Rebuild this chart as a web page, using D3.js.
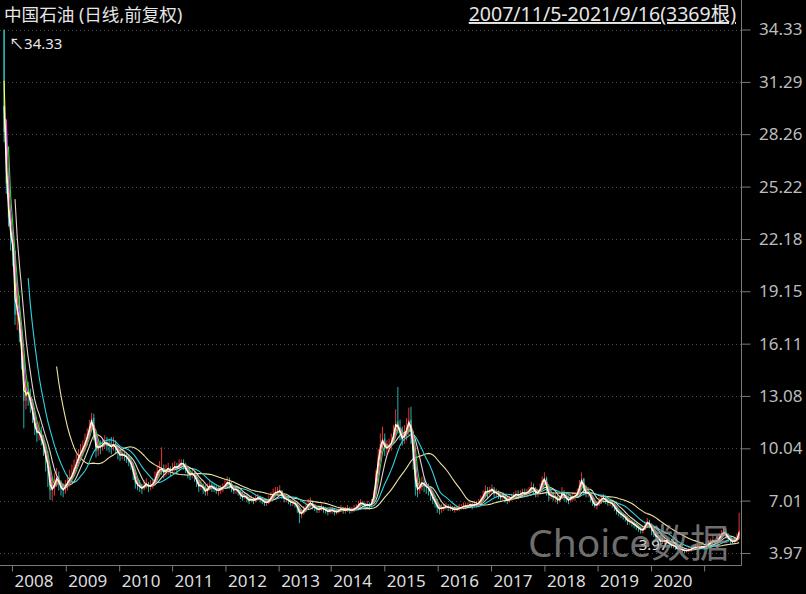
<!DOCTYPE html>
<html><head><meta charset="utf-8">
<script src="https://cdn.jsdelivr.net/npm/d3@7"></script>
<style>html,body{margin:0;padding:0;background:#000;overflow:hidden}svg{display:block}</style>
</head><body>
<svg id="chart" width="806" height="594"></svg>
<script>
// ---------- data (each sample = 10 trading days) ----------
const titleText = "中国石油 (日线,前复权)";
const rangeText = "2007/11/5-2021/9/16(3369根)";
const watermarkText = "Choice数据";
const totalBars = 3369;
const barsPerSample = 10;
const firstOpen = 34.31;

const closes = [
28.4,25.4,23.4,22.2,21.5,17.8,18.3,16.8,15.2,12.8,
13.4,13.2,12.6,12.0,11.2,10.9,11.0,10.5,10.1,9.4,
8.9,7.6,7.7,8.0,8.4,8.0,7.7,7.6,7.9,8.1,
8.3,8.5,8.9,9.2,9.6,9.8,10.1,10.4,10.8,11.3,
11.8,10.8,9.9,10.2,10.1,10.3,10.4,10.3,10.2,10.1,
10.3,10.0,9.8,9.6,9.7,9.6,9.5,9.3,9.1,8.6,
8.0,7.9,7.8,7.7,7.9,8.0,7.8,7.9,8.0,8.3,
8.7,8.8,8.9,8.6,8.8,8.9,8.7,8.9,9.0,8.9,
9.1,9.2,9.1,8.8,8.6,8.5,8.6,8.4,8.1,7.8,
7.9,7.7,7.5,7.7,7.9,7.8,7.7,7.6,7.6,7.7,
7.8,7.9,8.1,8.0,7.7,7.6,7.7,7.5,7.3,7.2,
7.3,7.1,7.0,7.1,7.0,7.1,7.2,7.1,7.0,6.9,
6.9,7.0,7.2,7.4,7.5,7.5,7.6,7.3,7.1,7.1,
7.0,6.9,6.9,6.8,6.6,6.2,6.3,6.5,6.6,6.8,
6.9,6.7,6.6,6.5,6.5,6.6,6.5,6.45,6.35,6.45,
6.45,6.35,6.35,6.45,6.55,6.45,6.45,6.55,6.45,6.45,
6.55,6.6,6.8,6.9,6.8,6.7,6.8,6.7,6.9,7.4,
8.6,9.5,10.3,10.6,10.0,10.1,10.2,10.4,10.9,11.6,
11.2,10.9,10.5,10.9,11.2,11.7,11.0,9.4,7.8,7.6,
7.9,8.1,7.9,7.8,7.7,7.4,7.1,6.9,6.6,6.5,
6.6,6.6,6.7,6.6,6.6,6.5,6.5,6.5,6.6,6.6,
6.7,6.7,6.7,6.8,6.7,6.8,6.8,6.9,7.1,7.3,
7.6,7.5,7.6,7.7,7.4,7.5,7.3,7.2,7.3,7.1,
7.0,7.1,7.2,7.3,7.4,7.3,7.4,7.5,7.4,7.5,
7.6,7.8,7.7,7.4,7.5,7.7,8.2,8.3,7.6,7.3,
7.3,7.2,7.2,7.0,7.1,7.5,7.3,7.1,7.0,7.2,
7.2,7.3,7.4,7.9,8.3,7.6,7.4,7.5,7.2,6.9,
6.7,6.8,7.0,7.1,7.2,7.0,6.9,6.9,6.8,6.6,
6.4,6.3,6.2,6.1,6.0,5.8,5.8,5.7,5.6,5.5,
5.4,5.3,5.3,5.6,5.8,5.6,5.3,5.1,4.9,4.8,
4.6,4.7,4.7,4.6,4.5,4.4,4.4,4.3,4.2,4.2,
4.15,4.1,4.1,4.15,4.2,4.3,4.3,4.3,4.3,4.35,
4.3,4.4,4.5,4.6,4.7,4.6,4.7,4.9,5.1,5.2,
5.0,4.8,4.7,4.6,4.7,4.8,5.3
];

const highs = [
34.33,28.6,25.8,23.6,22.6,21.4,19.6,18.9,16.9,15.0,
14.0,13.9,13.5,12.9,12.2,11.5,11.6,11.3,10.8,10.3,
9.9,8.9,8.3,8.6,8.9,8.7,8.2,8.0,8.2,8.5,
8.8,9.1,9.4,9.7,10.0,10.3,10.5,10.9,11.2,11.7,
12.1,12.05,10.8,10.6,10.5,10.6,10.8,10.7,10.6,10.7,
10.7,10.5,10.2,10.0,10.0,9.9,9.8,9.7,9.5,9.2,
8.7,8.3,8.2,8.0,8.2,8.3,8.1,8.2,8.3,8.7,
9.0,9.3,10.1,9.1,9.1,9.2,9.0,9.2,9.3,9.2,
9.4,9.4,9.4,9.2,8.9,8.8,8.9,8.7,8.5,8.2,
8.2,8.0,7.9,8.0,8.2,8.1,8.0,7.9,7.9,7.9,
8.0,8.2,8.4,8.35,8.1,7.9,7.9,7.8,7.6,7.5,
7.5,7.4,7.3,7.3,7.2,7.3,7.4,7.3,7.2,7.1,
7.1,7.3,7.5,7.7,7.8,7.8,7.9,7.6,7.4,7.3,
7.2,7.1,7.1,7.0,6.9,6.7,6.5,6.7,6.9,7.1,
7.2,7.0,6.8,6.7,6.7,6.8,6.7,6.65,6.55,6.65,
6.65,6.55,6.55,6.65,6.75,6.65,6.65,6.75,6.65,6.65,
6.75,6.8,7.0,7.1,7.0,6.9,7.0,6.9,7.1,7.6,
8.8,10.0,10.9,11.3,10.9,10.5,10.6,10.9,11.4,12.3,
13.6,11.7,11.3,11.4,11.8,12.4,12.45,11.0,9.4,8.1,
8.3,8.4,8.3,8.1,8.0,7.8,7.5,7.3,7.1,6.8,
6.8,6.8,6.9,6.8,6.8,6.7,6.7,6.7,6.8,6.8,
6.9,6.9,6.9,7.0,6.9,7.0,7.0,7.1,7.3,7.6,
7.9,7.8,7.8,7.95,7.8,7.7,7.6,7.5,7.5,7.4,
7.3,7.3,7.4,7.5,7.6,7.6,7.6,7.7,7.7,7.7,
7.8,8.1,8.0,7.8,7.7,8.0,8.4,8.65,8.4,7.7,
7.6,7.5,7.4,7.3,7.3,7.8,7.6,7.4,7.3,7.4,
7.5,7.5,7.7,8.2,8.65,8.3,7.8,7.8,7.5,7.2,
7.0,7.0,7.2,7.3,7.4,7.3,7.2,7.1,7.0,6.9,
6.7,6.5,6.4,6.3,6.2,6.1,6.0,5.9,5.8,5.7,
5.6,5.5,5.5,5.8,6.0,5.9,5.7,5.4,5.2,5.0,
4.9,4.9,4.9,4.8,4.7,4.6,4.6,4.6,4.4,4.35,
4.3,4.25,4.25,4.3,4.35,4.45,4.5,4.45,4.45,4.5,
4.5,4.6,4.7,4.8,5.0,4.8,4.9,5.1,5.3,5.45,
5.4,5.1,4.9,4.8,4.9,5.1,6.3
];

const lows = [
27.8,24.8,22.9,21.5,20.6,17.2,16.9,16.2,14.6,11.2,
12.3,12.5,12.1,11.5,10.8,10.4,10.5,10.2,9.6,8.7,
7.8,7.05,7.0,7.3,7.8,7.6,7.3,7.2,7.4,7.6,
7.8,8.0,8.4,8.8,9.0,9.3,9.6,9.9,10.2,10.7,
11.1,10.5,9.5,9.6,9.7,9.9,10.0,9.9,9.8,9.7,
9.9,9.7,9.4,9.3,9.4,9.3,9.2,9.0,8.8,8.2,
7.7,7.6,7.5,7.4,7.6,7.7,7.5,7.6,7.7,7.9,
8.2,8.4,8.5,8.3,8.4,8.5,8.4,8.6,8.7,8.6,
8.8,8.9,8.8,8.6,8.3,8.2,8.3,8.1,7.8,7.5,
7.6,7.4,7.3,7.3,7.6,7.5,7.5,7.4,7.3,7.4,
7.5,7.7,7.8,7.7,7.5,7.4,7.4,7.3,7.1,7.0,
7.1,6.9,6.8,6.9,6.8,6.9,7.0,6.9,6.8,6.7,
6.7,6.8,7.0,7.1,7.3,7.3,7.4,7.1,6.9,6.9,
6.8,6.7,6.7,6.6,6.3,5.70,6.0,6.2,6.4,6.5,
6.6,6.5,6.4,6.3,6.3,6.4,6.3,6.25,6.15,6.25,
6.25,6.15,6.2,6.25,6.35,6.25,6.25,6.35,6.25,6.3,
6.35,6.45,6.55,6.7,6.6,6.5,6.6,6.5,6.6,6.9,
7.4,8.5,9.3,10.0,9.6,9.7,9.8,9.9,10.3,10.8,
10.9,10.5,10.2,10.3,10.5,10.8,10.3,8.8,7.3,7.2,
7.4,7.6,7.5,7.4,7.3,7.0,6.8,6.6,6.3,6.2,
6.3,6.4,6.5,6.4,6.4,6.4,6.3,6.4,6.4,6.5,
6.5,6.5,6.6,6.6,6.5,6.6,6.6,6.7,6.8,7.0,
7.2,7.1,7.3,7.4,7.2,7.2,7.1,7.0,7.0,6.9,
6.8,6.9,7.0,7.1,7.1,7.1,7.2,7.2,7.2,7.3,
7.3,7.5,7.4,7.2,7.2,7.4,7.7,7.9,7.3,7.0,
7.1,7.0,6.9,6.8,6.9,7.1,7.0,6.9,6.8,6.9,
7.0,7.0,7.2,7.35,7.8,7.3,7.2,7.2,6.9,6.7,
6.6,6.5,6.7,6.8,6.9,6.8,6.7,6.7,6.6,6.4,
6.2,6.1,6.0,5.9,5.8,5.6,5.6,5.5,5.4,5.3,
5.2,5.1,5.1,5.3,5.5,5.4,5.0,4.9,4.7,4.6,
4.4,4.5,4.5,4.45,4.3,4.25,4.25,4.15,4.1,4.05,
4.0,3.97,4.0,4.02,4.05,4.1,4.15,4.15,4.15,4.2,
4.15,4.2,4.3,4.4,4.5,4.4,4.5,4.6,4.8,4.9,
4.8,4.6,4.5,4.5,4.5,4.6,4.8
];

const priceTicks = [3.97, 7.01, 10.04, 13.08, 16.11, 19.15, 22.18, 25.22, 28.26, 31.29, 34.33];
const yearLabels = ["2008","2009","2010","2011","2012","2013","2014","2015","2016","2017","2018","2019","2020","2021"];
const yearStartBars = [41, 287, 531, 773, 1017, 1260, 1498, 1743, 1987, 2231, 2475, 2718, 2962, 3205];

const maNames  = ["MA250","MA120","MA60","MA30","MA20","MA10","MA5"];
const maBars   = [250, 120, 60, 30, 20, 10, 5];
const maColors = ["#efe3a2","#2fd3df","#e8cfcf","#22e022","#ff3cff","#ffff30","#ffffff"];

// ---------- build ----------
const W = 806, H = 594;
const plotRight = 741, plotBottom = 565;
const svg = d3.select("#chart");
svg.append("rect").attr("width", W).attr("height", H).attr("fill", "#000");

const n = closes.length;
const samples = closes.map((c, i) => {
  const o = i === 0 ? firstOpen : closes[i - 1];
  return { i, o, c, h: Math.max(highs[i], o, c), l: Math.min(lows[i], o, c) };
});

const minLow = d3.min(lows), maxHigh = d3.max(highs);
const x = d3.scaleLinear().domain([0, totalBars]).range([3, 740]);
const y = d3.scaleLinear().domain([minLow, maxHigh]).range([553, 29.5]);
const cx = i => x(i * barsPerSample + barsPerSample / 2);

const font = "'Noto Sans','Noto Sans CJK SC','DejaVu Sans',sans-serif";

// gridlines
svg.append("g").selectAll("line").data(priceTicks).join("line")
  .attr("x1", 0).attr("x2", plotRight)
  .attr("y1", d => Math.round(y(d)) + 0.5).attr("y2", d => Math.round(y(d)) + 0.5)
  .attr("stroke", "#4c4c4c").attr("stroke-width", 1).attr("stroke-dasharray", "1,3");

// candles
const bodyW = 1.2;
const cg = svg.append("g");
samples.forEach(s => {
  const up = s.c >= s.o;
  const col = up ? "#ff3a3a" : "#2ec4c4";
  cg.append("line").attr("x1", cx(s.i)).attr("x2", cx(s.i))
    .attr("y1", y(s.h)).attr("y2", y(s.l)).attr("stroke", col).attr("stroke-width", 0.9);
  const top = y(Math.max(s.o, s.c)), bot = y(Math.min(s.o, s.c));
  cg.append("rect").attr("x", cx(s.i) - bodyW / 2).attr("width", bodyW)
    .attr("y", top).attr("height", Math.max(0.8, bot - top)).attr("fill", col);
});

// moving averages (per-sample bar averages assuming linear path inside a sample)
const sampleMean = samples.map(s => (s.o + s.c) / 2);
function maSeries(bars) {
  if (bars === 5) return samples.map(s => ({ i: s.i, v: s.o + 0.75 * (s.c - s.o) }));
  if (bars === 10) return samples.map(s => ({ i: s.i, v: (s.o + s.c) / 2 }));
  const k = bars / barsPerSample;
  const out = [];
  for (let i = k - 1; i < n; i++) {
    out.push({ i, v: d3.mean(sampleMean.slice(i - k + 1, i + 1)) });
  }
  return out;
}
const lineGen = d3.line().x(d => cx(d.i)).y(d => y(d.v));
const lg = svg.append("g");
maBars.forEach((b, j) => {
  lg.append("path").datum(maSeries(b)).attr("d", lineGen)
    .attr("fill", "none").attr("stroke", maColors[j]).attr("stroke-width", 1.1)
    .attr("stroke-linejoin", "round");
});

// axes frame
svg.append("line").attr("x1", plotRight + 0.5).attr("x2", plotRight + 0.5).attr("y1", 0).attr("y2", plotBottom + 0.5)
  .attr("stroke", "#7a7a7a");
svg.append("line").attr("x1", 0).attr("x2", plotRight + 0.5).attr("y1", plotBottom + 0.5).attr("y2", plotBottom + 0.5)
  .attr("stroke", "#7a7a7a");

// right axis
const yAxis = d3.axisRight(y).tickValues(priceTicks).tickFormat(d3.format(".2f")).tickSize(9).tickPadding(0);
const ya = svg.append("g").attr("transform", `translate(${plotRight + 0.5},0)`).call(yAxis);
ya.select(".domain").remove();
ya.selectAll(".tick line").attr("stroke", "#7a7a7a");
ya.selectAll(".tick text").attr("x", 802 - plotRight).attr("text-anchor", "end")
  .attr("fill", "#bdbdbd").style("font-family", font).style("font-size", "17px");

// bottom axis
const xAxis = d3.axisBottom(x).tickValues(yearStartBars)
  .tickFormat((d, i) => yearLabels[i]).tickSize(6).tickPadding(0);
const xa = svg.append("g").attr("transform", `translate(0,${plotBottom + 0.5})`).call(xAxis);
xa.select(".domain").remove();
xa.selectAll(".tick line").attr("stroke", "#7a7a7a");
xa.selectAll(".tick text").attr("x", 2).attr("y", 21).attr("dy", 0).attr("text-anchor", "start")
  .attr("fill", "#dedede").style("font-family", font).style("font-size", "17px")
  .style("display", d => x(d) + 40 > plotRight ? "none" : null);

// title texts
svg.append("text").attr("x", 4).attr("y", 21).text(titleText)
  .attr("fill", "#e6e6e6").style("font-family", font).style("font-size", "17.6px");
svg.append("text").attr("x", 736).attr("y", 21).attr("text-anchor", "end").text(rangeText)
  .attr("fill", "#e6e6e6").style("font-family", font).style("font-size", "19.5px")
  .style("text-decoration", "underline");

// extreme labels
const hiIdx = d3.maxIndex(highs), loIdx = d3.minIndex(lows);
svg.append("text").attr("x", cx(hiIdx) + 5).attr("y", y(maxHigh) + 19)
  .text("↖" + d3.format(".2f")(maxHigh))
  .attr("fill", "#e6e6e6").style("font-family", font).style("font-size", "15px");
svg.append("text").attr("x", cx(loIdx) - 1).attr("y", y(minLow) - 3).attr("text-anchor", "end")
  .text(d3.format(".2f")(minLow) + "↘")
  .attr("fill", "#e6e6e6").style("font-family", font).style("font-size", "15px");

// watermark
svg.append("text").attr("x", 528).attr("y", 556.5).text(watermarkText)
  .attr("fill", "#9a9a9a").attr("fill-opacity", 0.72)
  .style("font-family", font).style("font-size", "39px");
</script>
</body></html>
